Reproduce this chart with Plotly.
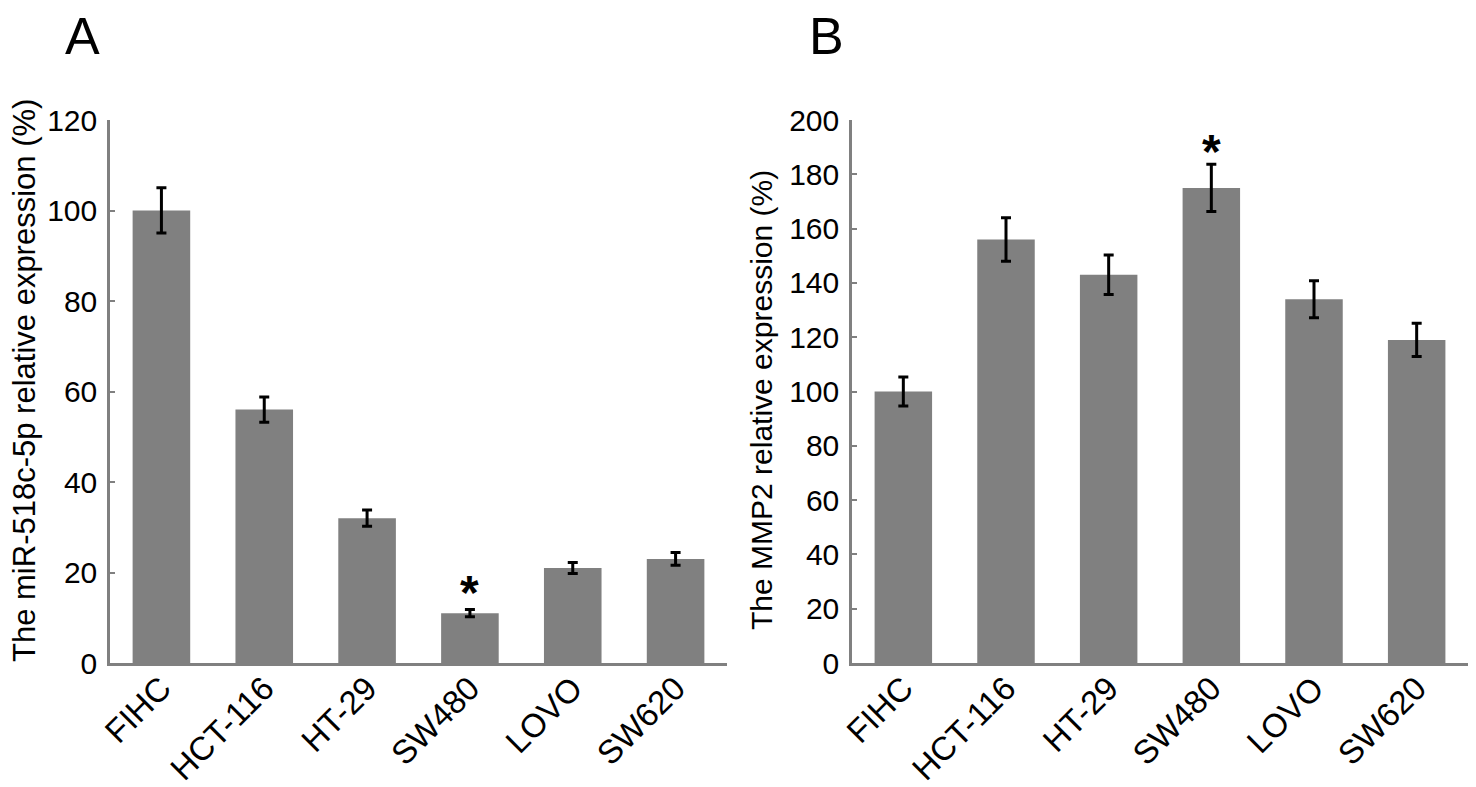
import plotly.graph_objects as go
from plotly.subplots import make_subplots

cell_lines = ["FIHC", "HCT-116", "HT-29", "SW480", "LOVO", "SW620"]

mir_values = [100, 56, 32, 11, 21, 23]
mir_errors = [5, 2.8, 1.8, 0.8, 1.2, 1.4]

mmp2_values = [100, 156, 143, 175, 134, 119]
mmp2_errors = [5.3, 8, 7.3, 8.7, 6.8, 6.1]

FONT = "Arial, Liberation Sans, sans-serif"
BAR = "#808080"
AXIS = "#808080"
W, H = 1476, 787
OFF = 8  # page body margin shifts the figure


def px(x):
    return (x - OFF) / W


def py(y):
    return 1 - (y - OFF) / H


def bar_trace(values, errors):
    return go.Bar(
        x=cell_lines, y=values, width=0.56, marker=dict(color=BAR, line=dict(width=0)),
        error_y=dict(type="data", array=errors, visible=True, color="black", thickness=3, width=5),
        showlegend=False,
    )


fig = make_subplots(rows=1, cols=2)
fig.add_trace(bar_trace(mir_values, mir_errors), row=1, col=1)
fig.add_trace(bar_trace(mmp2_values, mmp2_errors), row=1, col=2)

axis_style = dict(showline=True, linecolor=AXIS, linewidth=2.5, showgrid=False, zeroline=False,
                  automargin=False)
fig.update_xaxes(**axis_style, ticks="", tickangle=-45, range=[-0.5, 5.5], ticklabelstandoff=-10,
                 tickfont=dict(family=FONT, size=33, color="black"))
fig.update_yaxes(**axis_style, ticks="inside", ticklen=5, tickwidth=2, tickcolor=AXIS,
                 ticklabelstandoff=4, tickfont=dict(family=FONT, size=30, color="black"))

fig.update_layout(
    template="none",
    xaxis=dict(domain=[px(110), px(727)]),
    xaxis2=dict(domain=[px(852), px(1468)]),
    yaxis=dict(domain=[py(663), py(120)], range=[0, 120], dtick=20),
    yaxis2=dict(domain=[py(663), py(120)], range=[0, 200], dtick=20),
    width=W, height=H,
    margin=dict(l=0, r=0, t=0, b=0),
    plot_bgcolor="white", paper_bgcolor="white",
    font=dict(family=FONT, color="black"),
)

# axis titles
fig.add_annotation(x=px(24), y=py(381), xref="paper", yref="paper",
                   text="The miR-518c-5p relative expression (%)", textangle=-90, showarrow=False,
                   xanchor="center", yanchor="middle", font=dict(family=FONT, size=31, color="black"))
fig.add_annotation(x=px(761), y=py(400), xref="paper", yref="paper",
                   text="The MMP2 relative expression (%)", textangle=-90, showarrow=False,
                   xanchor="center", yanchor="middle", font=dict(family=FONT, size=30, color="black"))

# significance marks
fig.add_annotation(x="SW480", y=15.5, xref="x", yref="y", text="<b>*</b>", showarrow=False,
                   font=dict(family=FONT, size=48, color="black"))
fig.add_annotation(x="SW480", y=188.5, xref="x2", yref="y2", text="<b>*</b>", showarrow=False,
                   font=dict(family=FONT, size=48, color="black"))

# panel letters
fig.add_annotation(x=px(63), y=py(5), xref="paper", yref="paper", text="A", showarrow=False,
                   xanchor="left", yanchor="top", font=dict(family=FONT, size=52, color="black"))
fig.add_annotation(x=px(807), y=py(5), xref="paper", yref="paper", text="B", showarrow=False,
                   xanchor="left", yanchor="top", font=dict(family=FONT, size=52, color="black"))

fig.write_html("out.html")
